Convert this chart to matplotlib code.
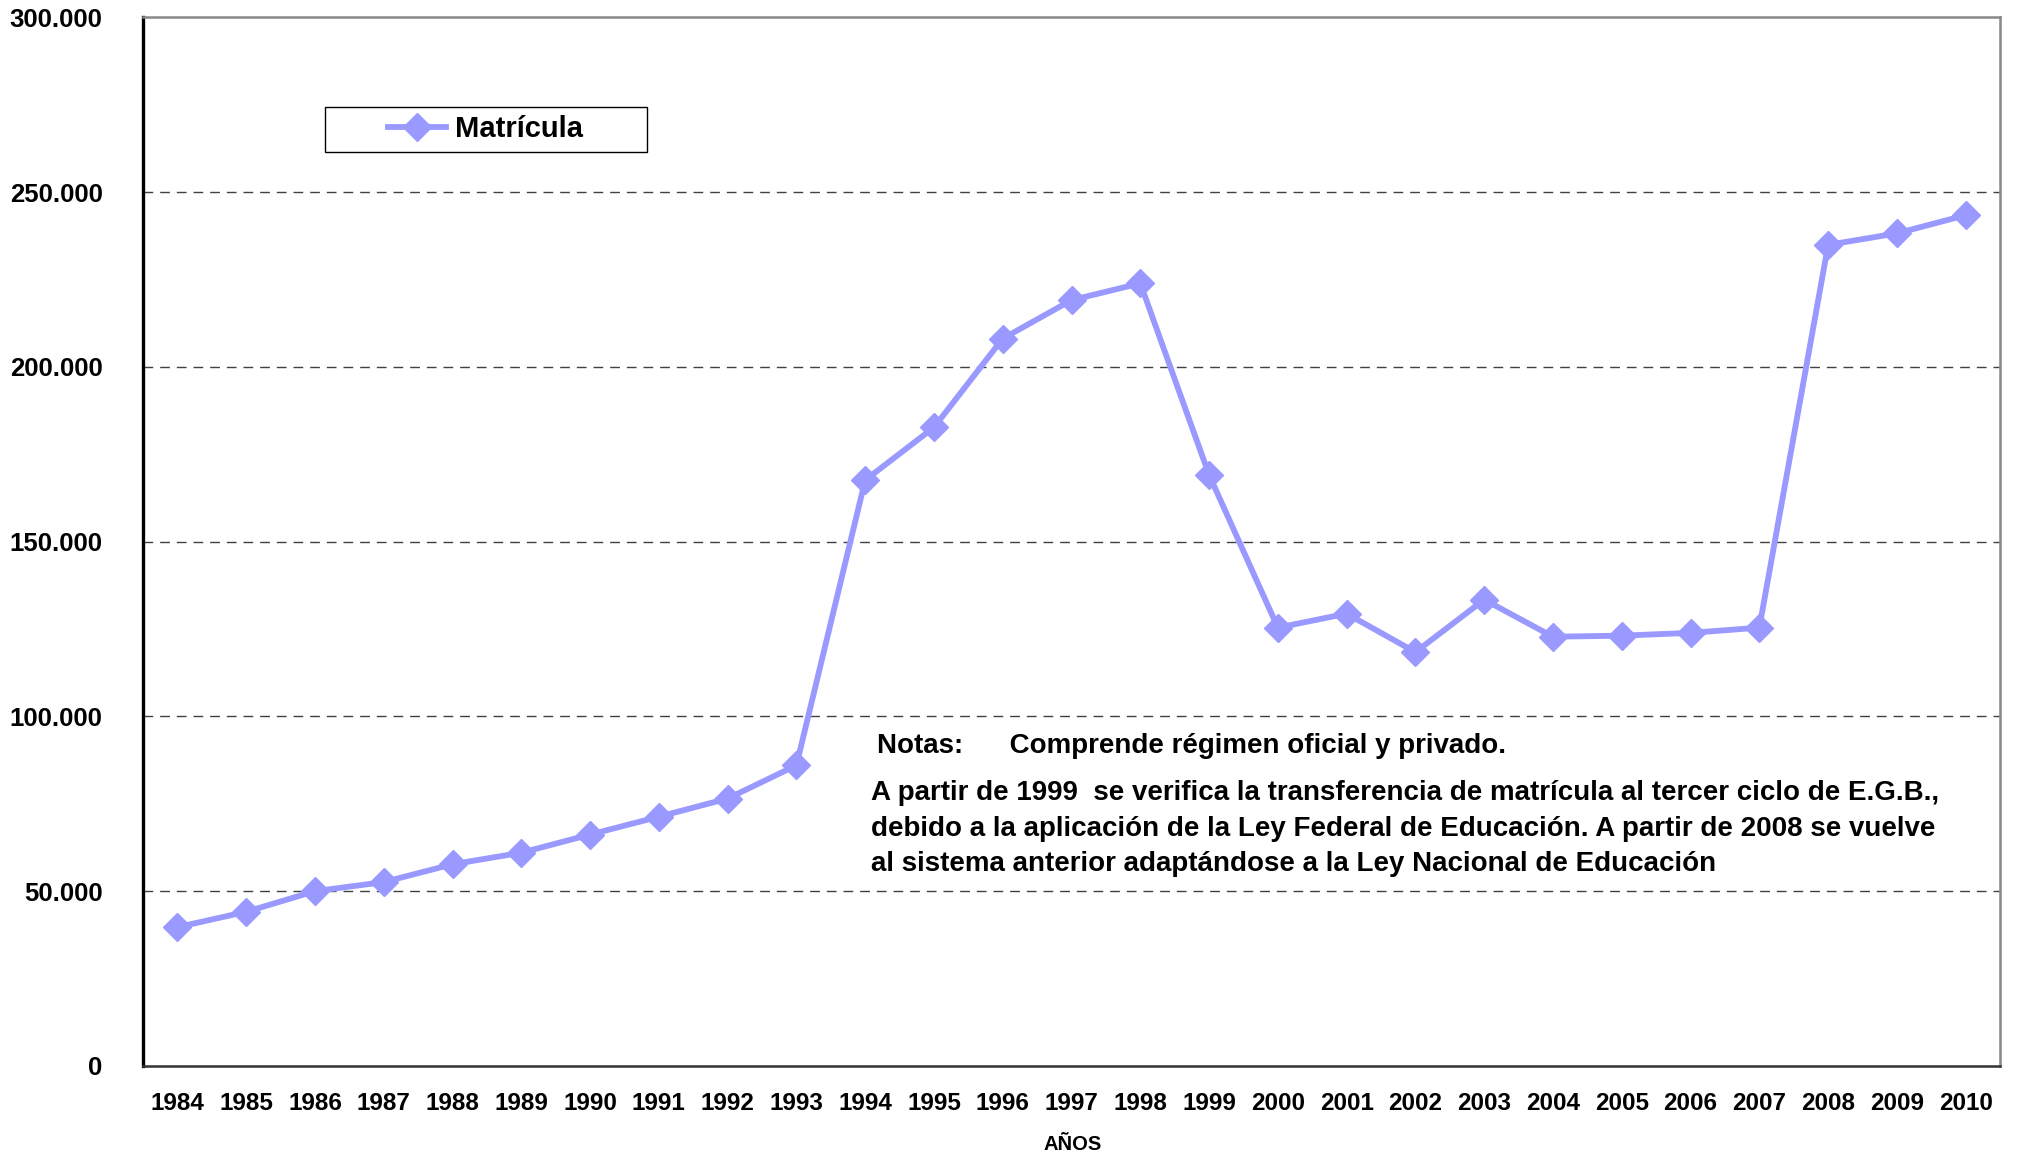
import numpy as np
import matplotlib.pyplot as plt
from matplotlib.patches import Rectangle
from matplotlib.ticker import FuncFormatter

plt.rcParams['font.family'] = ['Liberation Sans', 'DejaVu Sans']

# años y matrícula
years = ['1984', '1985', '1986', '1987', '1988', '1989', '1990', '1991', '1992',
         '1993', '1994', '1995', '1996', '1997', '1998', '1999', '2000', '2001',
         '2002', '2003', '2004', '2005', '2006', '2007', '2008', '2009', '2010']
matricula = [39700, 44100, 50000, 52600, 57700, 61000, 66200, 71300, 76500,
             86000, 167600, 182700, 208100, 219100, 223900, 169100, 125400, 129400,
             118400, 133400, 122800, 123100, 123900, 125400, 234900, 238200, 243400]
y_ticks = [0, 50000, 100000, 150000, 200000, 250000, 300000]

nota_1 = "Notas:      Comprende régimen oficial y privado."
nota_2 = ("A partir de 1999  se verifica la transferencia de matrícula al tercer ciclo de E.G.B.,\n"
          "debido a la aplicación de la Ley Federal de Educación. A partir de 2008 se vuelve\n"
          "al sistema anterior adaptándose a la Ley Nacional de Educación")

W, H = 2017, 1157
fig = plt.figure(figsize=(W / 100, H / 100), dpi=100)
ax = fig.add_axes([0.0709, 0.0787, 0.9207, 0.9063])

x = np.arange(len(years))
ax.plot(x, matricula, color='#9999FF', linewidth=4.2, marker='D',
        markersize=14.5, markeredgecolor='#9999FF', label='Matrícula', zorder=3)

ax.set_xlim(-0.5, len(years) - 0.5)
ax.set_ylim(0, 300000)
ax.set_yticks(y_ticks)
ax.yaxis.set_major_formatter(FuncFormatter(lambda v, p: f"{int(v):,}".replace(",", ".")))
ax.set_xticks(x)
ax.set_xticklabels(years)

for g in y_ticks[1:-1]:
    ax.axhline(g, color='#404040', linewidth=1.0, linestyle=(0, (7, 5)), zorder=1)

ax.tick_params(axis='both', length=0)
ax.tick_params(axis='y', pad=29, labelsize=18.5)
ax.tick_params(axis='x', pad=19, labelsize=17.5)
for lab in ax.get_xticklabels() + ax.get_yticklabels():
    lab.set_fontweight('bold')

ax.spines['left'].set_color('black')
ax.spines['left'].set_linewidth(2.4)
ax.spines['bottom'].set_color('#333333')
ax.spines['bottom'].set_linewidth(1.8)
ax.spines['top'].set_color('#888888')
ax.spines['top'].set_linewidth(1.8)
ax.spines['right'].set_color('#888888')
ax.spines['right'].set_linewidth(1.8)

# legend box drawn separately to get its wide shape
box = Rectangle((325 / W, 1 - 152 / H), 322 / W, 45 / H, transform=fig.transFigure,
                facecolor='white', edgecolor='black', linewidth=1.0, zorder=4, clip_on=False)
ax.add_patch(box)
leg = ax.legend(loc='center left', bbox_to_anchor=(388 / W, 1 - 129 / H), bbox_transform=fig.transFigure,
                prop={'weight': 'bold', 'size': 21}, frameon=False, handlelength=2.0,
                borderpad=0, borderaxespad=0, handletextpad=0.3)
leg.set_zorder(6)

fig.text(877 / W, 1 - 746 / H, nota_1, fontsize=20, fontweight='bold', va='center', ha='left')
fig.text(871 / W, 1 - 780 / H, nota_2, fontsize=20, fontweight='bold', va='top', ha='left',
         linespacing=1.48)

fig.text(1073 / W, 1 - 1145 / H, 'AÑOS', fontsize=14.5, fontweight='bold', ha='center', va='center')

fig.savefig('out.png', dpi=100)
